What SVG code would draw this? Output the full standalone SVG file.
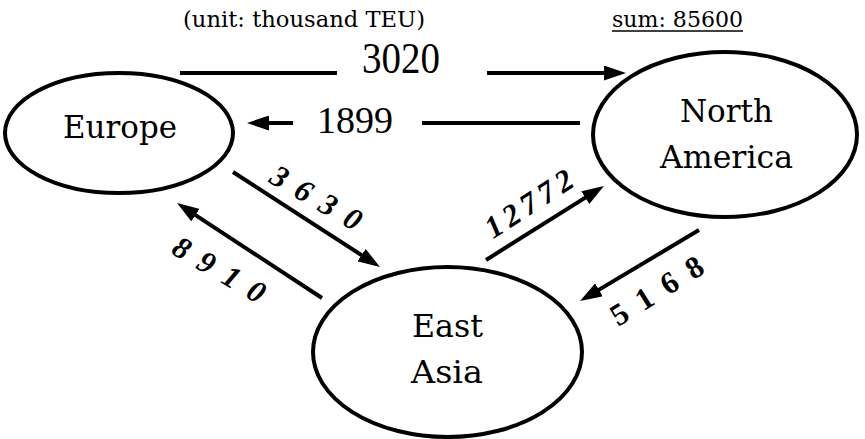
<svg xmlns="http://www.w3.org/2000/svg" width="865" height="439" viewBox="0 0 865 439">
  <defs>
    <style>
      .bg { fill: #ffffff; }
      .node { fill: #ffffff; stroke: #000000; stroke-width: 4; }
      .label { font-family: "DejaVu Serif", "Liberation Serif", serif; font-size: 31px; fill: #000000; text-anchor: middle; }
      .note { font-family: "DejaVu Serif", "Liberation Serif", serif; font-size: 23px; fill: #000000; }
      .flow { font-family: "Liberation Serif", "DejaVu Serif", serif; fill: #000000; }
      .tilt { font-family: "Liberation Serif", "DejaVu Serif", serif; font-size: 31px; font-weight: bold; fill: #000000; text-anchor: middle; }
      .link { fill: none; stroke: #000000; stroke-width: 4; }
    </style>
    <marker id="head" markerUnits="userSpaceOnUse" viewBox="0 0 22 15" markerWidth="22" markerHeight="15" refX="9" refY="7.5" orient="auto">
      <path d="M0,0 L22,7.5 L0,15 Z" fill="#000000"/>
    </marker>
  </defs>

  <rect class="bg" x="0" y="0" width="865" height="439"/>

  <!-- header notes -->
  <g id="notes">
    <text class="note" x="183" y="27" textLength="242" lengthAdjust="spacingAndGlyphs">(unit: thousand TEU)</text>
    <text class="note" x="612" y="27" textLength="131" lengthAdjust="spacingAndGlyphs">sum: 85600</text>
    <line x1="612" y1="31" x2="743" y2="31" stroke="#000000" stroke-width="1.6"/>
  </g>

  <!-- connectors -->
  <g id="connectors">
    <!-- Europe -> North America -->
    <line class="link" x1="180" y1="73" x2="337" y2="73"/>
    <line class="link" x1="487" y1="73" x2="613" y2="73" marker-end="url(#head)"/>
    <text class="flow" x="362" y="73" font-size="45" textLength="78" lengthAdjust="spacingAndGlyphs">3020</text>

    <!-- North America -> Europe -->
    <line class="link" x1="580" y1="123" x2="422" y2="123"/>
    <line class="link" x1="293" y1="123" x2="260" y2="123" marker-end="url(#head)"/>
    <text class="flow" x="317" y="133" font-size="37" textLength="76" lengthAdjust="spacingAndGlyphs">1899</text>

    <!-- Europe -> East Asia -->
    <line class="link" x1="233" y1="172" x2="369.1" y2="260" marker-end="url(#head)"/>
    <text class="tilt" font-style="italic" transform="translate(316,198) rotate(30)" y="10" textLength="100" lengthAdjust="spacing">3 6 3 0</text>

    <!-- East Asia -> Europe -->
    <line class="link" x1="322" y1="298" x2="187.9" y2="210.2" marker-end="url(#head)"/>
    <text class="tilt" font-style="italic" transform="translate(219,270) rotate(30.3)" y="10" textLength="102" lengthAdjust="spacing">8 9 1 0</text>

    <!-- East Asia -> North America -->
    <line class="link" x1="486" y1="260" x2="592.9" y2="192.9" marker-end="url(#head)"/>
    <text class="tilt" font-style="italic" transform="translate(529,204) rotate(-33)" y="10" textLength="99" lengthAdjust="spacing">12772</text>

    <!-- North America -> East Asia -->
    <line class="link" x1="699" y1="230" x2="591.2" y2="294.4" marker-end="url(#head)"/>
    <text class="tilt" transform="translate(657,291) rotate(-32)" y="10" textLength="104" lengthAdjust="spacing">5 1 6 8</text>
  </g>

  <!-- nodes -->
  <g id="europe">
    <ellipse class="node" cx="119" cy="133" rx="114" ry="60"/>
    <text class="label" x="120" y="138" textLength="114" lengthAdjust="spacingAndGlyphs">Europe</text>
  </g>

  <g id="north-america">
    <ellipse class="node" cx="725" cy="134.5" rx="132" ry="82.5"/>
    <text class="label" x="726.5" y="122" textLength="93" lengthAdjust="spacingAndGlyphs">North</text>
    <text class="label" x="726.5" y="168" textLength="133" lengthAdjust="spacingAndGlyphs">America</text>
  </g>

  <g id="east-asia">
    <ellipse class="node" cx="447.5" cy="352" rx="134.5" ry="85"/>
    <text class="label" x="447.5" y="337" textLength="71" lengthAdjust="spacingAndGlyphs">East</text>
    <text class="label" x="447" y="383" textLength="72" lengthAdjust="spacingAndGlyphs">Asia</text>
  </g>
</svg>
